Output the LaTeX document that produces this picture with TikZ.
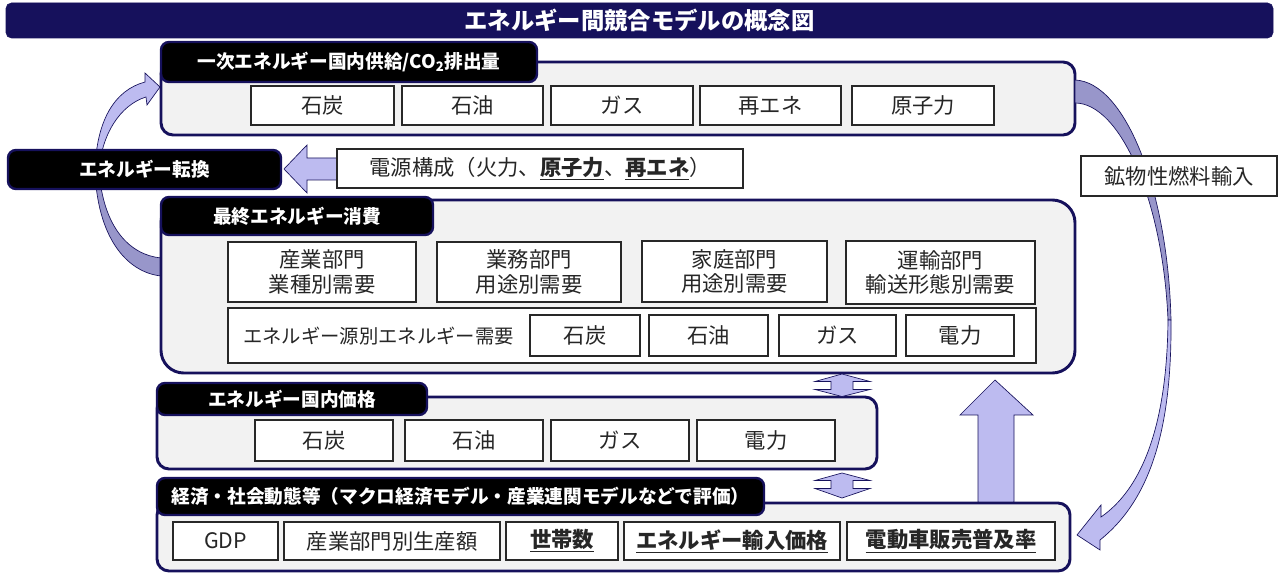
\documentclass[tikz,border=0pt]{standalone}
\usepackage{fontspec}
\setmainfont{Noto Sans CJK JP}
\definecolor{navy}{RGB}{22,17,92}
\definecolor{panelgray}{RGB}{242,242,242}
\definecolor{lav}{RGB}{189,187,240}
\definecolor{lavdark}{RGB}{152,150,202}
\definecolor{itemline}{RGB}{40,40,40}
\tikzset{
  panel/.style={draw=navy, line width=2.2pt, fill=panelgray, rounded corners=9pt},
  bigpanel/.style={panel, rounded corners=17pt},
  titlebar/.style={draw=navy, fill=navy, rounded corners=4pt, text=white, font=\bfseries\fontsize{17.5}{20}\selectfont},
  tab/.style={draw=navy, line width=1.8pt, fill=black, rounded corners=6pt, text=white, font=\bfseries\fontsize{14}{16}\selectfont},
  item/.style={draw=itemline, line width=0.9pt, fill=white, text=black!85, font=\fontsize{16}{18}\selectfont, align=center},
  twoline/.style={item, font=\fontsize{16}{18.5}\selectfont},
  plain/.style={text=black!85, font=\fontsize{16}{18}\selectfont},
  larrow/.style={fill=lav, draw=navy, line width=0.5pt, line join=miter},
  darrow/.style={fill=lavdark, draw=navy, line width=0.5pt},
}
% [style]{x1}{y1}{x2}{y2}{name}{text}
\newcommand\bx[7][]{\node[#1, minimum width={(#4-#2)*0.75pt}, minimum height={(#5-#3)*0.75pt}, inner sep=0pt, outer sep=0pt] (#6) at ({(#2+#4)/2},{(#3+#5)/2}) {#7};}
\newcommand\bul[1]{\textbf{\underline{#1}}}
\begin{document}
\begin{tikzpicture}[x=0.75pt, y=-0.75pt]
\useasboundingbox (0,0) rectangle (1279,573);

% title
\bx[titlebar]{6}{3}{1273}{38}{title}{エネルギー間競合モデルの概念図}

% left curved arrow (behind the conversion box)
\path[darrow] (95,170) .. controls (97,235) and (125,272) .. (161,276)
  -- (161,258) .. controls (130,255) and (103,228) .. (99,170) -- cycle;
\path[larrow] (95,172) .. controls (96,120) and (115,90) .. (145,82)
  -- (145,73) -- (160,87) -- (147,105) -- (146,97)
  .. controls (120,105) and (101,135) .. (99,172) -- cycle;

% panels
\bx[panel]{161}{62}{1075}{135}{pA}{}
\bx[bigpanel]{161}{200}{1075}{373}{pB}{}
\bx[panel]{157}{397}{877}{469}{pC}{}
\bx[panel]{157}{503}{1070}{571}{pD}{}

% right curved arrow (imports)
\path[darrow] (1075,80) .. controls (1125,82) and (1168,190) .. (1171,320)
  -- (1168,320) .. controls (1163,200) and (1120,103) .. (1075,103) -- cycle;
\path[larrow] (1171,320) .. controls (1172,430) and (1150,500) .. (1100,540)
  -- (1100,550) -- (1077,535) -- (1101,505) -- (1101,517)
  .. controls (1140,490) and (1167,430) .. (1168,320) -- cycle;

% up arrow D -> B
\path[larrow] (978,502) -- (978,415) -- (960,415) -- (995,380) -- (1033,415) -- (1014,415) -- (1014,502) -- cycle;

% double arrows
\path[larrow] (842,374) -- (870,381.5) -- (853,381.5) -- (853,389.5) -- (870,389.5) -- (842,396.5)
  -- (815,389.5) -- (831,389.5) -- (831,381.5) -- (815,381.5) -- cycle;
\path[larrow] (842,473) -- (870,480.5) -- (853,480.5) -- (853,488.5) -- (870,488.5) -- (842,498)
  -- (815,488.5) -- (831,488.5) -- (831,480.5) -- (815,480.5) -- cycle;

% arrow into conversion box
\path[larrow] (338,158) -- (307,158) -- (307,145) -- (284,169) -- (307,193) -- (307,180) -- (338,180) -- cycle;

% tabs
\bx[tab]{161}{42}{537}{82}{tA}{一次エネルギー国内供給/CO\textsubscript{2}排出量}
\bx[tab]{161}{197}{433}{235}{tB}{最終エネルギー消費}
\bx[tab]{157}{383}{427}{415}{tC}{エネルギー国内価格}
\bx[tab]{157}{478}{764}{515}{tD}{経済・社会動態等（マクロ経済モデル・産業連関モデルなどで評価）}
\bx[tab]{8}{150}{281}{189}{conv}{エネルギー転換}

% side labels
\bx[item]{337}{149}{743}{188}{mix}{電源構成（火力、\bul{原子力}、\bul{再エネ}）}
\bx[item]{1081}{156}{1277}{196}{imp}{鉱物性燃料輸入}

% panel A items
\bx[item]{251}{86}{394}{125}{a1}{石炭}
\bx[item]{402}{86}{543}{125}{a2}{石油}
\bx[item]{551}{86}{693}{125}{a3}{ガス}
\bx[item]{700}{86}{841}{125}{a4}{再エネ}
\bx[item]{852}{86}{994}{125}{a5}{原子力}

% panel B items
\bx[twoline]{228}{242}{416}{302}{b1}{産業部門\\業種別需要}
\bx[twoline]{437}{242}{621}{302}{b2}{業務部門\\用途別需要}
\bx[twoline]{642}{241}{827}{302}{b3}{家庭部門\\用途別需要}
\bx[twoline]{846}{241}{1035}{304}{b4}{運輸部門\\輸送形態別需要}
\bx[item]{228}{308}{1036}{363}{b5}{}
\node[plain, anchor=west, inner sep=0pt, font=\fontsize{14.5}{17}\selectfont] (b5l) at (243,336) {エネルギー源別エネルギー需要};
\bx[item]{530}{315}{640}{356}{b6}{石炭}
\bx[item]{649}{315}{768}{356}{b7}{石油}
\bx[item]{779}{315}{896}{356}{b8}{ガス}
\bx[item]{906}{315}{1014}{356}{b9}{電力}

% panel C items
\bx[item]{255}{420}{393}{461}{c1}{石炭}
\bx[item]{405}{420}{543}{461}{c2}{石油}
\bx[item]{551}{420}{689}{461}{c3}{ガス}
\bx[item]{697}{420}{835}{461}{c4}{電力}

% panel D items
\bx[item]{173}{522}{278}{560}{d1}{GDP}
\bx[item]{284}{522}{500}{560}{d2}{産業部門別生産額}
\bx[item]{506}{522}{618}{560}{d3}{\bul{世帯数}}
\bx[item]{624}{522}{840}{560}{d4}{\bul{エネルギー輸入価格}}
\bx[item]{847}{522}{1055}{560}{d5}{\bul{電動車販売普及率}}
\end{tikzpicture}
\end{document}
